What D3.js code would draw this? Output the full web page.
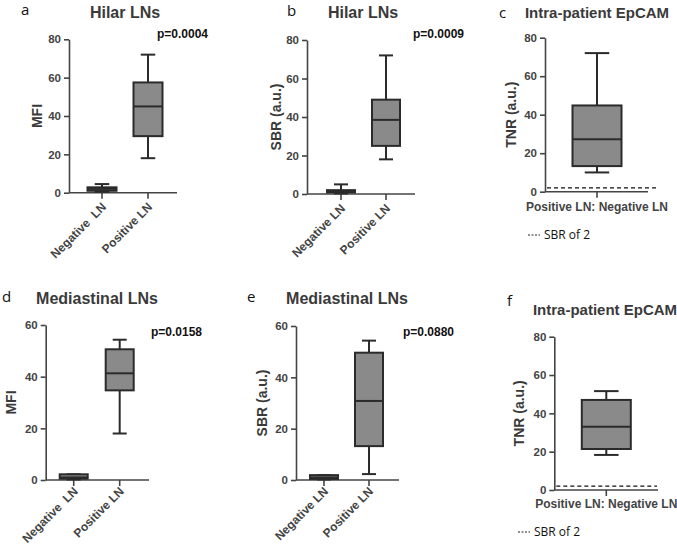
<!DOCTYPE html>
<html>
<head>
<meta charset="utf-8">
<script src="https://cdn.jsdelivr.net/npm/d3@7"></script>
<style>
  body { margin: 0; background: #fff; }
  svg { display: block; }
  text { white-space: pre; }
</style>
</head>
<body>
<div id="chart"></div>
<script>
// categories
var groupsWide = ["Negative  LN", "Positive LN"];
var groupsNarrow = ["Negative LN", "Positive LN"];
var ratioGroup = ["Positive LN: Negative LN"];

// box stats: [min, q1, median, q3, max]
var hilarMFI = [[0.5, 1, 2, 2.8, 4.5], [18, 29.5, 45, 57.5, 72]];
var hilarSBR = [[0.3, 0.8, 1.5, 2, 5], [18, 25, 38.5, 49, 72]];
var hilarTNR = [[10, 13.3, 27.3, 44.8, 72]];
var mediaMFI = [[0.2, 0.5, 1, 2.2, 2.2], [18, 34.7, 41.3, 50.6, 54.3]];
var mediaSBR = [[0.2, 0.4, 1, 1.9, 1.9], [2.3, 13.2, 30.8, 49.6, 54.3]];
var mediaTNR = [[18.3, 21.4, 33, 47, 51.6]];

var hilarTicks = [0, 20, 40, 60, 80];
var mediaTicks = [0, 20, 40, 60];
var sbrThreshold = 2;

var pValues = ["p=0.0004", "p=0.0009", "p=0.0158", "p=0.0880"];

var gray = "#444";
var svg = d3.select("#chart").append("svg")
  .attr("width", 677).attr("height", 546);

// panel layout (pixel positions only)
var panels = [
  { letter: "a", lx: 21, ly: 15, title: "Hilar LNs", tx: 125, ty: 18, tsize: 16,
    ax: 69, top: 39.3, bottom: 192.7, xEnd: 177, offs: [33, 79], boxW: 29,
    cats: groupsWide, stats: hilarMFI, ticks: hilarTicks, ylab: "MFI", ylx: 38,
    p: pValues[0], px: 157, py: 38, labDy: 15 },
  { letter: "b", lx: 287, ly: 16, title: "Hilar LNs", tx: 363, ty: 18, tsize: 16,
    ax: 307, top: 40, bottom: 194, xEnd: 415, offs: [34, 79], boxW: 28,
    cats: groupsNarrow, stats: hilarSBR, ticks: hilarTicks, ylab: "SBR (a.u.)", ylx: 277,
    p: pValues[1], px: 413, py: 38, labDy: 15 },
  { letter: "c", lx: 499, ly: 18, title: "Intra-patient EpCAM", tx: 597, ty: 18, tsize: 15,
    ax: 545, top: 37.7, bottom: 191.7, xEnd: 648, offs: [52], boxW: 49,
    cats: ratioGroup, stats: hilarTNR, ticks: hilarTicks, ylab: "TNR (a.u.)", ylx: 512,
    refEnd: 657, xlabY: 211, legX: 528, legY: 239 },
  { letter: "d", lx: 2, ly: 302, title: "Mediastinal LNs", tx: 97, ty: 304, tsize: 16,
    ax: 45.7, top: 325, bottom: 480, xEnd: 149, offs: [28, 74], boxW: 28,
    cats: groupsWide, stats: mediaMFI, ticks: mediaTicks, ylab: "MFI", ylx: 12,
    p: pValues[2], px: 151, py: 336, labDy: 12 },
  { letter: "e", lx: 247, ly: 302, title: "Mediastinal LNs", tx: 347, ty: 304, tsize: 16,
    ax: 296, top: 326, bottom: 480, xEnd: 399, offs: [28, 73], boxW: 28,
    cats: groupsNarrow, stats: mediaSBR, ticks: mediaTicks, ylab: "SBR (a.u.)", ylx: 263,
    p: pValues[3], px: 403, py: 336, labDy: 12 },
  { letter: "f", lx: 507, ly: 306, title: "Intra-patient EpCAM", tx: 605, ty: 315, tsize: 15,
    ax: 554.3, top: 336.7, bottom: 490, xEnd: 658, offs: [52], boxW: 49,
    cats: ratioGroup, stats: mediaTNR, ticks: hilarTicks, ylab: "TNR (a.u.)", ylx: 520,
    refEnd: 657, xlabY: 508, legX: 518, legY: 536 }
];

panels.forEach(function (P) {
  var g = svg.append("g");
  var yMax = d3.max(P.ticks);
  var y = d3.scaleLinear().domain([0, yMax]).range([P.bottom, P.top]);
  var x = d3.scalePoint().domain(P.cats).range([P.ax + P.offs[0], P.ax + P.offs[P.offs.length - 1]]);
  if (P.cats.length === 1) x = function () { return P.ax + P.offs[0]; };

  // panel letter
  g.append("text").attr("x", P.lx).attr("y", P.ly)
    .style("font-family", "'Open Sans', sans-serif").style("font-size", "15px")
    .attr("fill", "#111").text(P.letter);

  // title
  g.append("text").attr("x", P.tx).attr("y", P.ty).attr("text-anchor", "middle")
    .style("font-family", "'Liberation Sans', Arial, sans-serif").style("font-weight", "bold")
    .style("font-size", P.tsize + "px").attr("fill", "#3a3a3a").text(P.title);

  // y axis
  var yAxis = g.append("g").attr("transform", "translate(" + P.ax + ",0)")
    .call(d3.axisLeft(y).tickValues(P.ticks).tickSize(5).tickSizeOuter(0).tickPadding(3));
  yAxis.select(".domain").attr("stroke", gray).attr("stroke-width", 1.6);
  yAxis.selectAll(".tick line").attr("stroke", gray).attr("stroke-width", 1.6);
  yAxis.selectAll(".tick text").attr("fill", gray)
    .style("font-family", "'Liberation Sans', Arial, sans-serif").style("font-weight", "bold")
    .style("font-size", "11.5px");

  // y label
  g.append("text")
    .attr("transform", "translate(" + P.ylx + "," + ((P.top + P.bottom) / 2) + ") rotate(-90)")
    .attr("text-anchor", "middle").attr("dominant-baseline", "middle")
    .style("font-family", "'Liberation Sans', Arial, sans-serif").style("font-weight", "bold")
    .style("font-size", "14px").attr("fill", "#3a3a3a").text(P.ylab);

  // x axis line
  g.append("line").attr("x1", P.ax).attr("x2", P.xEnd)
    .attr("y1", P.bottom).attr("y2", P.bottom)
    .attr("stroke", gray).attr("stroke-width", 1.6);

  // x ticks and labels
  P.cats.forEach(function (c) {
    var cx = x(c);
    g.append("line").attr("x1", cx).attr("x2", cx)
      .attr("y1", P.bottom).attr("y2", P.bottom + 6)
      .attr("stroke", gray).attr("stroke-width", 1.6);
    if (P.cats.length > 1) {
      g.append("text")
        .attr("transform", "translate(" + (cx + 5) + "," + (P.bottom + P.labDy) + ") rotate(-45)")
        .attr("text-anchor", "end")
        .style("font-family", "'Liberation Sans', Arial, sans-serif").style("font-weight", "bold")
        .style("font-size", "12px").attr("fill", gray).text(c);
    } else {
      g.append("text").attr("x", cx).attr("y", P.xlabY).attr("text-anchor", "middle")
        .style("font-family", "'Liberation Sans', Arial, sans-serif").style("font-weight", "bold")
        .style("font-size", "12px").attr("fill", gray).text(c);
    }
  });

  // reference line at SBR of 2
  if (P.refEnd) {
    g.append("line").attr("x1", P.ax + 2).attr("x2", P.refEnd)
      .attr("y1", y(sbrThreshold)).attr("y2", y(sbrThreshold))
      .attr("stroke", "#111").attr("stroke-width", 1.4).attr("stroke-dasharray", "4,3");
    g.append("line").attr("x1", P.legX).attr("x2", P.legX + 12)
      .attr("y1", P.legY - 4).attr("y2", P.legY - 4)
      .attr("stroke", "#222").attr("stroke-width", 1).attr("stroke-dasharray", "2,1.5");
    g.append("text").attr("x", P.legX + 16).attr("y", P.legY)
      .style("font-family", "'Open Sans', sans-serif").style("font-size", "12px")
      .attr("fill", "#111").text("SBR of 2");
  }

  // boxes
  P.cats.forEach(function (c, i) {
    var s = P.stats[i];
    var cx = x(c), hw = P.boxW / 2, cap = P.boxW / 4;
    var bg = g.append("g").attr("stroke", "#2b2b2b").attr("stroke-width", 2);
    bg.append("line").attr("x1", cx).attr("x2", cx).attr("y1", y(s[4])).attr("y2", y(s[3]));
    bg.append("line").attr("x1", cx).attr("x2", cx).attr("y1", y(s[1])).attr("y2", y(s[0]));
    bg.append("line").attr("x1", cx - cap).attr("x2", cx + cap).attr("y1", y(s[4])).attr("y2", y(s[4]));
    bg.append("line").attr("x1", cx - cap).attr("x2", cx + cap).attr("y1", y(s[0])).attr("y2", y(s[0]));
    bg.append("rect").attr("x", cx - hw).attr("width", P.boxW)
      .attr("y", y(s[3])).attr("height", Math.max(y(s[1]) - y(s[3]), 0.5))
      .attr("fill", "#8a8a8a");
    bg.append("line").attr("x1", cx - hw).attr("x2", cx + hw).attr("y1", y(s[2])).attr("y2", y(s[2]));
  });

  // p value
  if (P.p) {
    g.append("text").attr("x", P.px).attr("y", P.py)
      .style("font-family", "'Liberation Sans', Arial, sans-serif").style("font-weight", "bold")
      .style("font-size", "12px").attr("fill", "#111").text(P.p);
  }
});
</script>
</body>
</html>
